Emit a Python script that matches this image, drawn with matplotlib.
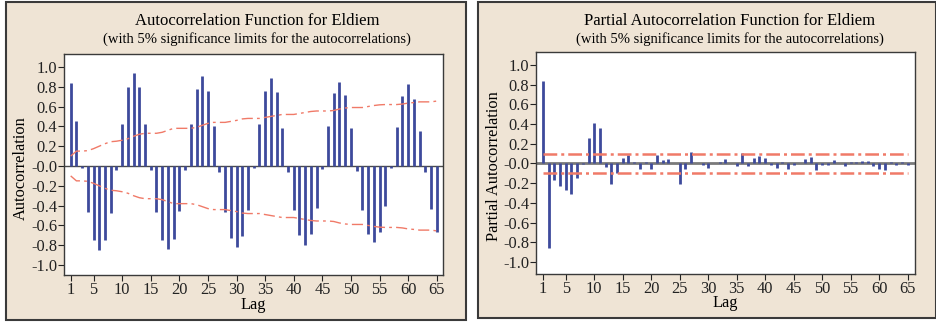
import numpy as np
import matplotlib
matplotlib.use("Agg")
import matplotlib.pyplot as plt
from matplotlib.patches import Rectangle

plt.rcParams['font.family'] = ['Liberation Serif', 'DejaVu Serif']

lags = list(range(1, 66))

acf = [0.84, 0.45, -0.02, -0.46, -0.75, -0.85, -0.75, -0.47, -0.04, 0.42,
       0.80, 0.94, 0.80, 0.42, -0.04, -0.46, -0.75, -0.84, -0.74, -0.45,
       -0.04, 0.42, 0.78, 0.91, 0.76, 0.40, -0.06, -0.46, -0.73, -0.82,
       -0.71, -0.44, -0.02, 0.42, 0.76, 0.89, 0.75, 0.38, -0.06, -0.44,
       -0.70, -0.80, -0.69, -0.42, -0.03, 0.40, 0.74, 0.85, 0.72, 0.38,
       -0.05, -0.44, -0.69, -0.77, -0.67, -0.40, -0.02, 0.39, 0.71, 0.83,
       0.68, 0.35, -0.06, -0.43, -0.67]

acf_limit = [0.10, 0.15, 0.15, 0.155, 0.175, 0.20, 0.225, 0.245, 0.25, 0.26,
             0.275, 0.30, 0.32, 0.33, 0.33, 0.33, 0.34, 0.36, 0.38, 0.38,
             0.38, 0.38, 0.39, 0.41, 0.43, 0.44, 0.44, 0.44, 0.45, 0.46,
             0.475, 0.48, 0.48, 0.48, 0.49, 0.50, 0.51, 0.52, 0.52, 0.52,
             0.53, 0.54, 0.55, 0.555, 0.555, 0.555, 0.56, 0.575, 0.585, 0.59,
             0.59, 0.59, 0.60, 0.61, 0.617, 0.62, 0.62, 0.62, 0.625, 0.635,
             0.64, 0.647, 0.647, 0.647, 0.655]

pacf = [0.84, -0.86, -0.17, -0.23, -0.27, -0.31, -0.15, -0.01, 0.26, 0.41,
        0.36, -0.04, -0.21, -0.10, 0.06, 0.09, 0.02, -0.06, 0.014, -0.06,
        0.09, 0.035, 0.045, 0.003, -0.21, -0.055, 0.12, 0.003, -0.02, -0.05,
        0.004, 0.015, 0.05, 0.004, -0.03, 0.11, -0.03, 0.055, 0.08, 0.055,
        -0.02, -0.045, 0.02, -0.055, -0.02, 0.003, 0.045, 0.065, -0.065, -0.012,
        -0.012, 0.035, 0.003, -0.03, 0.013, 0.013, 0.025, 0.025, -0.03, -0.06,
        -0.07, 0.017, -0.015, 0.013, -0.02]
pacf_limit = 0.093

W, H = 937, 322
fig = plt.figure(figsize=(W / 100, H / 100), dpi=100)
fig.patch.set_facecolor('white')

bar_col = '#3d4a9c'
lim_col = '#f07a68'
bg_col = '#efe4d5'

def px_rect(x0, y0, x1, y1):
    return [x0 / W, 1 - y1 / H, (x1 - x0) / W, (y1 - y0) / H]

# panel backgrounds (behind the axes)
for (x0, y0, x1, y1) in [(6, 2, 466, 320), (478, 2, 936, 318)]:
    fig.patches.append(Rectangle((x0 / W, 1 - y1 / H), (x1 - x0) / W, (y1 - y0) / H,
                                 transform=fig.transFigure, facecolor=bg_col,
                                 edgecolor='#3a3a3a', lw=1.5, zorder=-5))

def setup_axes(ax, xlim, ylim):
    ax.set_xlim(*xlim)
    ax.set_ylim(*ylim)
    ax.set_xticks([1, 5, 10, 15, 20, 25, 30, 35, 40, 45, 50, 55, 60, 65])
    yt = np.round(np.arange(-1.0, 1.01, 0.2), 1)
    ax.set_yticks(yt)
    ax.set_yticklabels([f'{v:.1f}' for v in yt])
    ax.tick_params(length=4, width=0.8, colors='#222222', labelsize=11.8, pad=1)
    for s in ax.spines.values():
        s.set_color('#3a3a3a')
        s.set_linewidth(1)
    ax.set_facecolor('white')

# ACF panel
ax1 = fig.add_axes(px_rect(64, 54, 443, 275))
setup_axes(ax1, (-0.17, 66.1), (-1.10, 1.13))
ax1.axhline(0, color='#4a4a4a', lw=1, zorder=2)
ax1.vlines(lags, 0, acf, color=bar_col, lw=2, zorder=3)
ax1.plot(lags, acf_limit, color=lim_col, lw=1, linestyle=(0, (8, 3, 2, 3)), zorder=4)
ax1.plot(lags, [-v for v in acf_limit], color=lim_col, lw=1, linestyle=(0, (8, 3, 2, 3)), zorder=4)

# PACF panel
ax2 = fig.add_axes(px_rect(536, 52, 915, 274))
setup_axes(ax2, (-0.23, 66.3), (-1.12, 1.13))
ax2.axhline(0, color='#7a7a7a', lw=2, zorder=2)
ax2.vlines(lags, 0, pacf, color=bar_col, lw=2, zorder=3)
ax2.plot([1, 65], [pacf_limit, pacf_limit], color=lim_col, lw=1.8,
         linestyle=(0, (5.5, 1.6, 1.2, 1.6)), zorder=4)
ax2.plot([1, 65], [-pacf_limit, -pacf_limit], color=lim_col, lw=1.8,
         linestyle=(0, (5.5, 1.6, 1.2, 1.6)), zorder=4)

# texts
fig.text(257 / W, 1 - 21 / H, 'Autocorrelation Function for Eldiem',
         ha='center', va='center', fontsize=12)
fig.text(257 / W, 1 - 39 / H, '(with 5% significance limits for the autocorrelations)',
         ha='center', va='center', fontsize=10.5)
fig.text(730 / W, 1 - 21 / H, 'Partial Autocorrelation Function for Eldiem',
         ha='center', va='center', fontsize=12)
fig.text(730 / W, 1 - 39 / H, '(with 5% significance limits for the autocorrelations)',
         ha='center', va='center', fontsize=10.5)

fig.text(21 / W, 1 - 168 / H, 'Autocorrelation', rotation=90,
         ha='center', va='center', fontsize=11.8)
fig.text(494 / W, 1 - 166 / H, 'Partial Autocorrelation', rotation=90,
         ha='center', va='center', fontsize=11.8)
fig.text(253 / W, 1 - 305 / H, 'Lag', ha='center', va='center', fontsize=11.8)
fig.text(725 / W, 1 - 303 / H, 'Lag', ha='center', va='center', fontsize=11.8)

fig.savefig('out.png', dpi=100, facecolor=fig.get_facecolor())
